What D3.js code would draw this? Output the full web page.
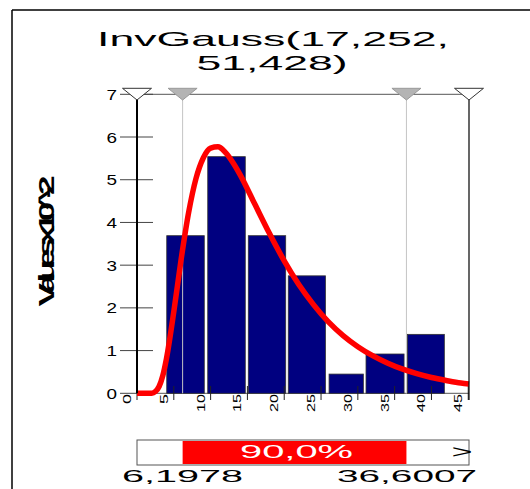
<!DOCTYPE html>
<html><head><meta charset="utf-8">
<script src="https://cdn.jsdelivr.net/npm/d3@7/dist/d3.min.js"></script>
<style>body{margin:0;background:#fff}svg{display:block;font-family:"Liberation Sans",Arial,sans-serif}</style>
</head><body>
<script>
// ---- data ----
const titleLines = ["InvGauss(17,252,", "51,428)"];
const yAxisLabel = "Values x 10^-2";
const binLo   = [4.04, 9.61, 15.12, 20.55, 26.09, 31.11, 36.73];
const binHi   = [9.14, 14.71, 20.20, 25.60, 30.75, 36.28, 41.75];
const binVal  = [3.69, 5.54, 3.69, 2.75, 0.45, 0.92, 1.38];
const curveX  = [0,1,2,2.5,3,3.5,4,5,6,7,8,9,10,11,12,13,14,16,18,20,22,24,26,28,30,32,34,36,38,40,42,44,45.1];
const curveY  = [0,0,0,0.04,0.16,0.41,0.81,1.91,3.14,4.22,5.02,5.51,5.74,5.77,5.64,5.41,5.12,4.43,3.74,3.10,2.54,2.07,1.67,1.35,1.09,0.88,0.71,0.57,0.46,0.37,0.30,0.24,0.22];
const yTicks  = [0,1,2,3,4,5,6,7];
const xTicks  = [0,5,10,15,20,25,30,35,40,45];
const xTickLabels = ["0","5","10","15","20","25","30","35","40","45"];
const dataMin = 0, dataMax = 45.1;
const lowerBound = 6.1978, upperBound = 36.6007;
const lowerLabel = "6,1978", upperLabel = "36,6007";
const pctLabel = "90,0%";

// ---- drawing ----
const svg = d3.select("body").append("svg").attr("width",530).attr("height",489);
const x = d3.scaleLinear().domain([0,45.1]).range([137,469]);
const y = d3.scaleLinear().domain([0,7]).range([393.3,94.3]);

// outer frame
svg.append("line").attr("x1",12).attr("x2",12).attr("y1",10).attr("y2",489).attr("stroke","#000").attr("stroke-width",1.5);
svg.append("line").attr("x1",12).attr("x2",530).attr("y1",10).attr("y2",10).attr("stroke","#000").attr("stroke-width",1.5);

// title
svg.append("text").attr("x",273).attr("y",46).attr("text-anchor","middle").attr("font-size",21)
  .attr("textLength",352).attr("lengthAdjust","spacingAndGlyphs").text(titleLines[0]);
svg.append("text").attr("x",272).attr("y",70).attr("text-anchor","middle").attr("font-size",21)
  .attr("textLength",151).attr("lengthAdjust","spacingAndGlyphs").text(titleLines[1]);

// y axis label
svg.append("text").attr("transform","translate(54,241) rotate(-90) scale(1.6,1)")
  .attr("text-anchor","middle").attr("font-size",22).attr("font-weight","bold")
  .attr("textLength",82).attr("lengthAdjust","spacing").text(yAxisLabel);

// top plot line and bottom axis line
svg.append("line").attr("x1",x(dataMin)).attr("x2",x(dataMax)).attr("y1",y(7)).attr("y2",y(7)).attr("stroke","#555").attr("stroke-width",1);
svg.append("line").attr("x1",x(dataMin)).attr("x2",x(dataMax)).attr("y1",y(0)).attr("y2",y(0)).attr("stroke","#555").attr("stroke-width",1);

// y ticks + labels
svg.selectAll(".yt").data(yTicks).join("line").attr("x1",120).attr("x2",153)
  .attr("y1",d=>y(d)).attr("y2",d=>y(d)).attr("stroke","#444").attr("stroke-width",1);
svg.selectAll(".yl").data(yTicks).join("text").attr("x",117).attr("y",d=>y(d)+5.5)
  .attr("text-anchor","end").attr("font-size",15).attr("textLength",10.5).attr("lengthAdjust","spacingAndGlyphs").text(d=>d);

// bars
svg.selectAll(".bar").data(binVal).join("rect")
  .attr("x",(d,i)=>x(binLo[i])).attr("width",(d,i)=>x(binHi[i])-x(binLo[i]))
  .attr("y",d=>y(d)).attr("height",d=>y(0)-y(d))
  .attr("fill","#000080").attr("stroke","#333").attr("stroke-width",0.8);

// bound lines
svg.selectAll(".bl").data([lowerBound,upperBound]).join("line")
  .attr("x1",d=>x(d)).attr("x2",d=>x(d)).attr("y1",y(7)+5).attr("y2",y(0))
  .attr("stroke","#c4c4c4").attr("stroke-width",1);

// x ticks + labels
svg.selectAll(".xt").data(xTicks).join("line").attr("x1",d=>x(d)).attr("x2",d=>x(d))
  .attr("y1",386).attr("y2",400).attr("stroke","#222").attr("stroke-width",1);
svg.selectAll(".xl").data(xTicks).join("text")
  .attr("transform",d=>`translate(${x(d)-6},394) rotate(-90)`)
  .attr("text-anchor","end").attr("font-size",11)
  .attr("textLength",(d,i)=>xTickLabels[i].length===1?10:18).attr("lengthAdjust","spacingAndGlyphs")
  .text((d,i)=>xTickLabels[i]);

// fitted curve
const line = d3.line().x(d=>x(d[0])).y(d=>y(d[1])).curve(d3.curveMonotoneX);
svg.append("path").datum(curveX.map((v,i)=>[v,curveY[i]])).attr("d",line)
  .attr("fill","none").attr("stroke","#ff0000").attr("stroke-width",5.5).attr("stroke-linejoin","round");

// min/max lines
svg.selectAll(".mm").data([dataMin,dataMax]).join("line")
  .attr("x1",d=>x(d)).attr("x2",d=>x(d)).attr("y1",y(7)+5).attr("y2",d=>d===dataMin?y(0):400)
  .attr("stroke","#000").attr("stroke-width",d=>d===dataMin?2:1.2);

// triangles
const tri = d => `M${x(d)-14.5},88.3 L${x(d)+14.5},88.3 L${x(d)},100 Z`;
svg.selectAll(".tw").data([dataMin,dataMax]).join("path").attr("d",tri)
  .attr("fill","#fff").attr("stroke","#333").attr("stroke-width",1);
svg.selectAll(".tg").data([lowerBound,upperBound]).join("path").attr("d",tri)
  .attr("fill","#b4b4b4").attr("stroke","#999").attr("stroke-width",1);

// bottom range bar
svg.append("rect").attr("x",x(dataMin)).attr("y",440).attr("width",x(dataMax)-x(dataMin)).attr("height",25)
  .attr("fill","#fff").attr("stroke","#555").attr("stroke-width",1);
svg.append("rect").attr("x",x(lowerBound)).attr("y",441).attr("width",x(upperBound)-x(lowerBound)).attr("height",23)
  .attr("fill","#ff0000");
svg.append("text").attr("x",(x(lowerBound)+x(upperBound))/2+2).attr("y",458).attr("text-anchor","middle")
  .attr("font-size",18).attr("fill","#fff").attr("textLength",113).attr("lengthAdjust","spacingAndGlyphs").text(pctLabel);
svg.append("text").attr("x",462).attr("y",458).attr("text-anchor","middle")
  .attr("font-size",18).attr("textLength",21).attr("lengthAdjust","spacingAndGlyphs").text(">");
svg.append("text").attr("x",122).attr("y",482).attr("font-size",17)
  .attr("textLength",121).attr("lengthAdjust","spacingAndGlyphs").text(lowerLabel);
svg.append("text").attr("x",477).attr("y",482).attr("text-anchor","end").attr("font-size",17)
  .attr("textLength",140).attr("lengthAdjust","spacingAndGlyphs").text(upperLabel);
</script>
</body></html>
